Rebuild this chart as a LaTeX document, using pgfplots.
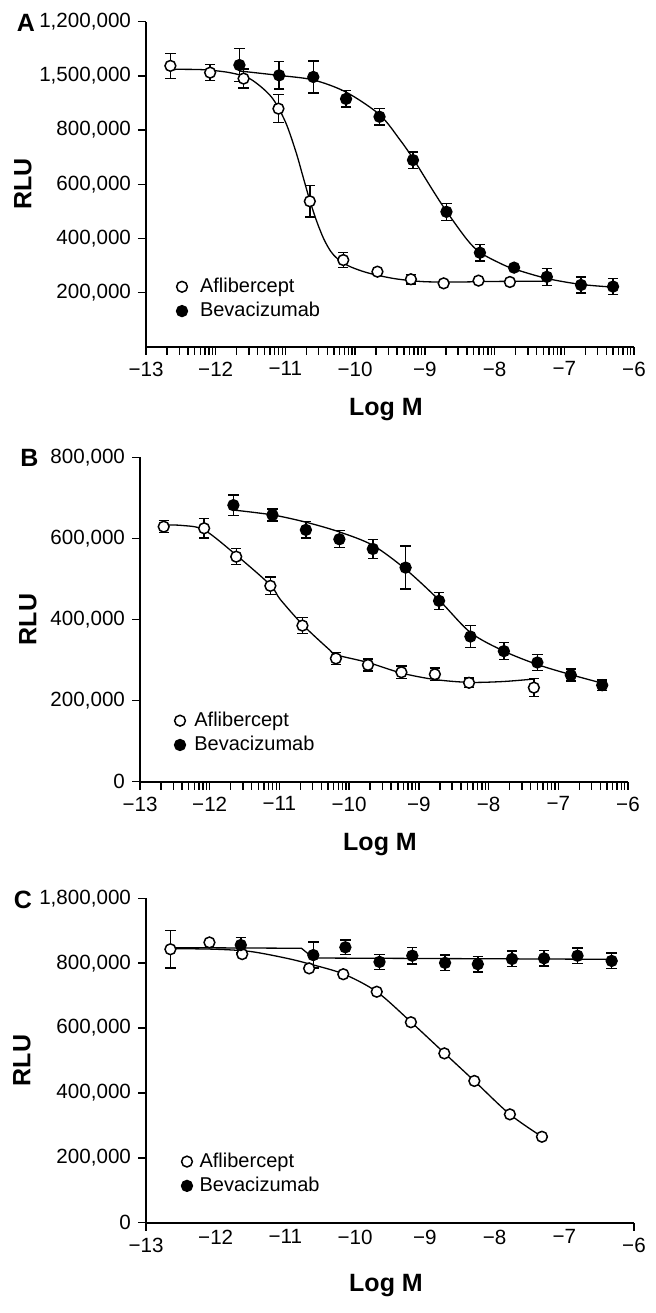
\documentclass[border=0pt]{standalone}
\usepackage{fontspec}
\setmainfont{Liberation Sans}
\usepackage{pgfplots}
\usepackage{pgfplotstable}
\pgfplotsset{compat=1.18}

% Panel A
\pgfplotstableread{
x y e
-12.65 1037000 46000
-12.08 1012000 30000
-11.60 990000 35000
-11.10 879000 52000
-10.65 537000 58000
-10.17 320000 28000
-9.68 277000 0
-9.20 249000 18000
-8.73 234000 0
-8.23 244000 0
-7.78 239000 0
}\AafL
\pgfplotstableread{
x y e
-11.66 1040000 60000
-11.09 1002000 50000
-10.60 996000 59000
-10.13 915000 30000
-9.65 849000 31000
-9.17 689000 30000
-8.69 498000 31000
-8.21 347000 31000
-7.72 292000 0
-7.25 258000 31000
-6.76 228000 30000
-6.30 222000 30000
}\AbeV
% Panel B
\pgfplotstableread{
x y e
-12.66 629000 15000
-12.08 625000 24000
-11.62 555000 20000
-11.13 483000 22000
-10.67 385000 20000
-10.19 304000 15000
-9.73 288000 15000
-9.25 270000 15000
-8.77 265000 15000
-8.28 244000 12000
-7.35 232000 22000
}\BafL
\pgfplotstableread{
x y e
-11.66 682000 25000
-11.10 658000 15000
-10.62 621000 20000
-10.14 598000 21000
-9.66 574000 23000
-9.19 528000 53000
-8.71 446000 21000
-8.26 358000 27000
-7.78 322000 21000
-7.30 294000 20000
-6.82 263000 15000
-6.37 238000 13000
}\BbeV
% Panel C
\pgfplotstableread{
x y e
-12.65 843000 58000
-12.09 864000 0
-11.62 828000 0
-10.66 784000 0
-10.17 766000 0
-9.69 712000 0
-9.20 618000 0
-8.72 522000 0
-8.29 437000 0
-7.78 334000 0
-7.32 265000 0
}\CafL
\pgfplotstableread{
x y e
-11.64 856000 23000
-10.60 825000 40000
-10.14 849000 22000
-9.65 804000 23000
-9.18 823000 25000
-8.71 801000 24000
-8.24 797000 24000
-7.75 813000 24000
-7.29 815000 24000
-6.81 823000 24000
-6.32 807000 24000
}\CbeV

\pgfplotsset{
  panel/.style={
    scale only axis, width=244pt,
    xmin=-13, xmax=-6, ymin=0,
    clip=false,
    axis x line*=bottom, axis y line*=left,
    axis line style={line width=0.8pt, -},
    tick align=outside,
    major tick length=4pt, minor tick length=4pt,
    tick style={line width=0.7pt, black},
    scaled y ticks=false,
    tick label style={font=\fontsize{10.3}{12}\selectfont},
    xlabel={Log M}, ylabel={RLU},
    label style={font=\fontsize{12.5}{14}\selectfont\bfseries},
    xlabel style={at={([yshift=-34.5pt,xshift=-2pt]axis description cs:0.5,0)}, anchor=base},
    ylabel style={at={([xshift=-61.5pt]axis description cs:0,0.5)}, anchor=center, rotate=0},
    legend cell align=left,
    legend image code/.code={\draw[##1] plot coordinates {(0cm,0cm)};},
  },
  logminor/.style={
    xtick={-13,-12,-11,-10,-9,-8,-7,-6},
    xticklabels={−13,−12,−11,−10,−9,−8,−7,−6},
    minor xtick={-12.69897,-12.52288,-12.39794,-12.30103,-12.22185,-12.15490,-12.09691,-12.04576,
      -11.69897,-11.52288,-11.39794,-11.30103,-11.22185,-11.15490,-11.09691,-11.04576,
      -10.69897,-10.52288,-10.39794,-10.30103,-10.22185,-10.15490,-10.09691,-10.04576,
      -9.69897,-9.52288,-9.39794,-9.30103,-9.22185,-9.15490,-9.09691,-9.04576,
      -8.69897,-8.52288,-8.39794,-8.30103,-8.22185,-8.15490,-8.09691,-8.04576,
      -7.69897,-7.52288,-7.39794,-7.30103,-7.22185,-7.15490,-7.09691,-7.04576,
      -6.69897,-6.52288,-6.39794,-6.30103,-6.22185,-6.15490,-6.09691,-6.04576},
  },
  curve/.style={black, line width=0.65pt, forget plot},
  ebars/.style={only marks, mark=none, forget plot,
    error bars/.cd, y dir=both, y explicit,
    error bar style={line width=0.7pt, black, solid},
    error mark options={rotate=90, mark size=2.6pt, line width=0.7pt, black, solid}},
  openm/.style={only marks, mark=*, mark size=2.7pt, mark options={fill=white, draw=black, line width=0.75pt}},
  fullm/.style={only marks, mark=*, mark size=2.7pt, mark options={fill=black, draw=black, line width=0.75pt}},
  legfont/.style={font=\fontsize{10}{12}\selectfont},
}

\begin{document}
\begin{tikzpicture}
\useasboundingbox (0,0) rectangle (327.5pt,-656.5pt);

% ---------------- Panel A
\begin{axis}[panel, logminor,
  at={(73pt,-173.35pt)}, anchor=south west, height=162.5pt,
  ymax=1200000,
  ytick={200000,400000,600000,800000,1000000,1200000},
  yticklabels={{200,000},{400,000},{600,000},{800,000},{1,500,000},{1,200,000}},
  legend style={draw=none, fill=none, at={(axis description cs:0.0496,0.147)}, anchor=west,
    legfont, nodes={inner sep=0pt}, row sep=3.4pt, column sep=6.3pt},
]
\addplot[curve, smooth] coordinates {(-12.65,1024000) (-12.2,1023000) (-11.8,1012000) (-11.5,988000) (-11.2,922000) (-11.0,830000) (-10.85,720000) (-10.75,630000) (-10.65,540000) (-10.55,462000) (-10.45,398000) (-10.35,352000) (-10.25,324000) (-10.1,299000) (-9.9,279000) (-9.7,265000) (-9.4,250000) (-9.0,240000) (-8.5,239000) (-8.0,241000) (-7.3,242000)};
\addplot[curve, smooth] coordinates {(-11.66,1018000) (-11.1,1002000) (-10.6,985000) (-10.13,940000) (-9.65,857000) (-9.36,765000) (-9.17,695000) (-8.88,575000) (-8.69,500000) (-8.40,397000) (-8.21,348000) (-7.92,308000) (-7.72,287000) (-7.25,252000) (-6.76,230000) (-6.30,220000)};
\addplot[ebars] table[x=x, y=y, y error=e] {\AafL};
\addplot[ebars] table[x=x, y=y, y error=e] {\AbeV};
\addplot[openm] table[x=x, y=y] {\AafL};
\addlegendentry{Aflibercept}
\addplot[fullm] table[x=x, y=y] {\AbeV};
\addlegendentry{Bevacizumab}
\end{axis}

% ---------------- Panel B
\begin{axis}[panel, logminor,
  at={(70pt,-390.85pt)}, anchor=south west, height=162.2pt,
  ymax=800000,
  ytick={0,200000,400000,600000,800000},
  yticklabels={0,{200,000},{400,000},{600,000},{800,000}},
  ylabel style={at={([xshift=-56pt]axis description cs:0,0.5)}},
  legend style={draw=none, fill=none, at={(axis description cs:0.0578,0.1507)}, anchor=west,
    legfont, nodes={inner sep=0pt}, row sep=3.4pt, column sep=4.5pt},
]
\addplot[curve, smooth] coordinates {(-12.66,633000) (-12.4,632000) (-12.08,621000) (-11.62,559000) (-11.13,485000) (-10.99,450000) (-10.66,386000) (-10.28,325000) (-10.19,313000) (-9.73,294000) (-9.25,268000) (-8.77,252000) (-8.28,245000) (-7.8,247000) (-7.36,253000)};
\addplot[curve, smooth] coordinates {(-11.66,670000) (-11.10,658000) (-10.62,640000) (-10.14,616000) (-9.66,583000) (-9.19,524000) (-8.71,448000) (-8.26,368000) (-7.78,322000) (-7.30,289000) (-6.82,264000) (-6.37,243000)};
\addplot[ebars] table[x=x, y=y, y error=e] {\BafL};
\addplot[ebars] table[x=x, y=y, y error=e] {\BbeV};
\addplot[openm] table[x=x, y=y] {\BafL};
\addlegendentry{Aflibercept}
\addplot[fullm] table[x=x, y=y] {\BbeV};
\addlegendentry{Bevacizumab}
\end{axis}

% ---------------- Panel C
\begin{axis}[panel,
  at={(73pt,-611.35pt)}, anchor=south west, height=162.2pt,
  ymax=1000000,
  xtick={-13,-6}, xticklabels={−13,−6},
  extra x ticks={-12,-11,-10,-9,-8,-7},
  extra x tick labels={−12,−11,−10,−9,−8,−7},
  extra x tick style={major tick length=0pt, tick style={draw=none}},
  ytick={0,200000,400000,600000,800000,1000000},
  yticklabels={0,{200,000},{400,000},{600,000},{800,000},{1,800,000}},
  ylabel style={at={([xshift=-62pt]axis description cs:0,0.5)}},
  legend style={draw=none, fill=none, at={(axis description cs:0.0598,0.151)}, anchor=west,
    legfont, nodes={inner sep=0pt}, row sep=3.4pt, column sep=3.6pt},
]
\addplot[curve, smooth] coordinates {(-12.65,845000) (-12.0,843000) (-11.5,836000) (-11.0,816000) (-10.66,798000) (-10.17,767000) (-9.69,712000) (-9.20,619000) (-8.72,523000) (-8.29,437000) (-7.78,334000) (-7.32,265000)};
\addplot[curve] coordinates {(-12.65,848000) (-10.77,846000) (-10.60,816000) (-6.32,812000)};
\addplot[ebars] table[x=x, y=y, y error=e] {\CafL};
\addplot[ebars] table[x=x, y=y, y error=e] {\CbeV};
\addplot[openm] table[x=x, y=y] {\CafL};
\addlegendentry{Aflibercept}
\addplot[fullm] table[x=x, y=y] {\CbeV};
\addlegendentry{Bevacizumab}
\end{axis}

\node[anchor=base west, font=\fontsize{12.5}{14}\selectfont\bfseries, inner sep=0pt] at (8.3pt,-15.8pt) {A};
\node[anchor=base west, font=\fontsize{12.5}{14}\selectfont\bfseries, inner sep=0pt] at (10pt,-233.3pt) {B};
\node[anchor=base west, font=\fontsize{12.5}{14}\selectfont\bfseries, inner sep=0pt] at (6.7pt,-454.2pt) {C};
\end{tikzpicture}
\end{document}
